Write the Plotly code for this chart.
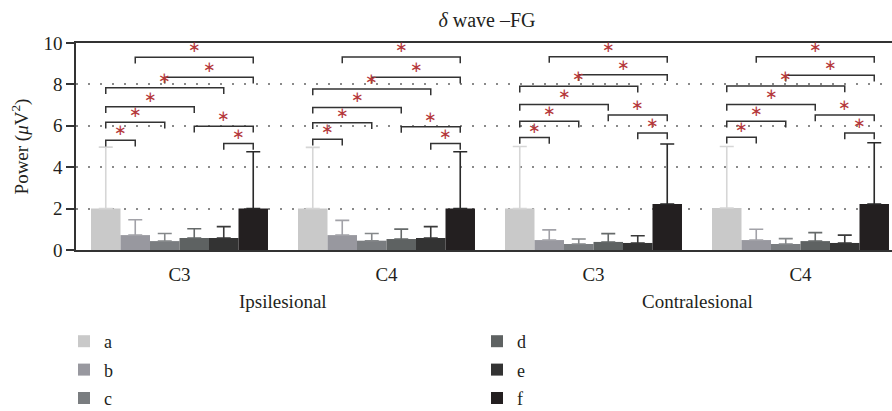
import plotly.graph_objects as go

# ---------------- data ----------------
groups = ["Ipsilesional", "Contralesional"]
channels = ["C3", "C4", "C3", "C4"]
series = ["a", "b", "c", "d", "e", "f"]

mean_a = [2.00, 2.00, 2.00, 2.03]
mean_b = [0.72, 0.72, 0.48, 0.48]
mean_c = [0.43, 0.45, 0.29, 0.29]
mean_d = [0.58, 0.53, 0.39, 0.43]
mean_e = [0.58, 0.58, 0.34, 0.34]
mean_f = [2.00, 2.00, 2.22, 2.22]

upper_a = [4.97, 4.96, 5.00, 5.00]
upper_b = [1.46, 1.43, 0.97, 1.00]
upper_c = [0.80, 0.80, 0.53, 0.55]
upper_d = [1.03, 1.01, 0.79, 0.84]
upper_e = [1.13, 1.13, 0.69, 0.72]
upper_f = [4.75, 4.75, 5.12, 5.18]

sig_pairs = [("a", "b"), ("a", "c"), ("a", "d"), ("a", "e"),
             ("b", "f"), ("c", "f"), ("d", "f"), ("e", "f")]
sig_level_g1 = [5.30, 6.17, 6.92, 7.84, 9.31, 8.34, 5.98, 5.14]
sig_level_g2 = [5.35, 6.15, 6.89, 7.78, 9.32, 8.34, 5.96, 5.14]
sig_level_g3 = [5.43, 6.22, 7.03, 7.91, 9.34, 8.47, 6.52, 5.65]
sig_level_g4 = [5.45, 6.22, 7.03, 7.92, 9.34, 8.44, 6.52, 5.65]

y_ticks = [0, 2, 4, 6, 8, 10]

# ---------------- style ----------------
bar_colors = ["#c9c9c9", "#98989f", "#7a7d80", "#5e6262", "#333333", "#231f20"]
err_colors = ["#d6d6d6", "#a2a2a8", "#85888a", "#666a6a", "#3a3a3a", "#2a2a2a"]
FONT = "Liberation Serif"
TXT = "#231f20"
LINE = "#333333"
STAR = "#b5383c"
FS = 19

means = [mean_a, mean_b, mean_c, mean_d, mean_e, mean_f]
uppers = [upper_a, upper_b, upper_c, upper_d, upper_e, upper_f]
levels = [sig_level_g1, sig_level_g2, sig_level_g3, sig_level_g4]

xpos = list(range(len(channels)))
bargap = 0.145
nser = len(series)
bw = (1 - bargap) / nser

fig = go.Figure()
for i, name in enumerate(series):
    fig.add_trace(go.Bar(
        x=xpos, y=means[i], name=name,
        marker=dict(color=bar_colors[i], line=dict(width=0)),
        error_y=dict(type="data", symmetric=False,
                     array=[u - m for u, m in zip(uppers[i], means[i])],
                     arrayminus=[0] * len(xpos),
                     color=err_colors[i], thickness=1.6, width=7),
        legend="legend" if i < 3 else "legend2",
        legendgroup=name,
        hoverinfo="skip",
    ))


def bar_center(g, s):
    i = series.index(s)
    return g - (1 - bargap) / 2 + bw * (i + 0.5)


leg = 0.3
shapes = []
annotations = []
for g in range(len(channels)):
    for (s1, s2), lv in zip(sig_pairs, levels[g]):
        x1, x2 = bar_center(g, s1), bar_center(g, s2)
        shapes.append(dict(
            type="path", xref="x", yref="y",
            path=f"M{x1},{lv - leg} L{x1},{lv} L{x2},{lv} L{x2},{lv - leg}",
            line=dict(color=LINE, width=1.5)))
        annotations.append(dict(
            x=(x1 + x2) / 2, y=lv, xref="x", yref="y", text="∗",
            showarrow=False, yanchor="middle", yshift=10,
            font=dict(family="DejaVu Sans", size=15, color=STAR)))

for k, gname in enumerate(groups):
    annotations.append(dict(x=0.5 + 2 * k, y=(250 - 301) / 207, xref="x",
                            yref="paper", text=gname, showarrow=False,
                            yanchor="middle",
                            font=dict(family=FONT, size=FS, color=TXT)))

x_range = [-0.5, -0.5 + 816 / 207]

fig.update_layout(
    width=892, height=411,
    margin=dict(l=76, r=0, t=43, b=161, pad=0, autoexpand=False),
    paper_bgcolor="white", plot_bgcolor="white",
    barmode="group", bargap=bargap, bargroupgap=0,
    font=dict(family=FONT, size=FS, color=TXT),
    title=dict(text="<i>δ</i> wave –FG", x=(487 - 76) / 816, xref="paper",
               xanchor="center", y=1 - 20 / 411, yanchor="middle",
               font=dict(family=FONT, size=20, color=TXT)),
    xaxis=dict(range=x_range, tickvals=xpos, ticktext=channels, ticks="",
               showline=True, mirror=True, linecolor=LINE, linewidth=1.5,
               showgrid=False, zeroline=False, ticklabelstandoff=6,
               tickfont=dict(family=FONT, size=FS, color=TXT)),
    xaxis2=dict(range=x_range, overlaying="x", anchor="y", side="bottom",
                tickvals=[-0.5, 0.5, 1.5, 2.5, 3.5], ticks="outside",
                ticklen=7, tickwidth=1.5, tickcolor=LINE,
                showticklabels=False, showline=False, showgrid=False,
                zeroline=False),
    yaxis=dict(range=[0, 10], tickvals=y_ticks, ticks="outside", ticklen=8,
               tickwidth=1.5, tickcolor=LINE, showline=True, linecolor=LINE,
               linewidth=1.5, showgrid=True, gridcolor="#8a8a8a",
               griddash="1.5px,10.5px", gridwidth=1.5, zeroline=False,
               tickfont=dict(family=FONT, size=FS, color=TXT),
               title=dict(text="Power (<i>μ</i>V<sup>2</sup>)", standoff=10,
                          font=dict(family=FONT, size=FS, color=TXT))),
    legend=dict(x=(64 - 76) / 816, xref="paper", xanchor="left",
                y=(250 - 323) / 207, yanchor="top", tracegroupgap=2,
                font=dict(family=FONT, size=18, color=TXT),
                bgcolor="rgba(0,0,0,0)"),
    legend2=dict(x=(477 - 76) / 816, xref="paper", xanchor="left",
                 y=(250 - 323) / 207, yanchor="top", tracegroupgap=2,
                 font=dict(family=FONT, size=18, color=TXT),
                 bgcolor="rgba(0,0,0,0)"),
    shapes=shapes,
    annotations=annotations,
)

fig.write_html(
    "out.html",
    config={"displayModeBar": False},
    post_script="document.body.style.margin='0px';"
                "document.body.style.overflow='hidden';",
)
